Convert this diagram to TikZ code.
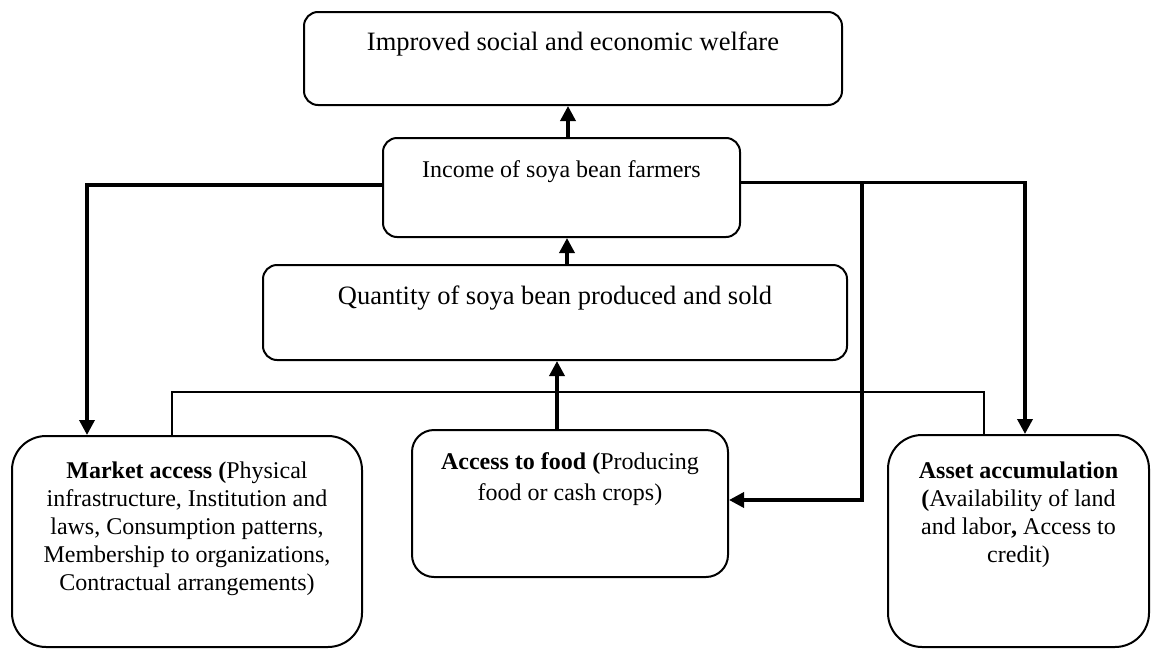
\documentclass[tikz,border=0pt]{standalone}
\usepackage{fontspec}
\setmainfont{Liberation Serif}
\usetikzlibrary{arrows.meta, positioning}

\begin{document}
\begin{tikzpicture}[x=1pt, y=-1pt]
          \tikzstyle{rbox}=[draw,line width = 2pt,rounded corners=14pt,inner sep=0pt]
          \tikzstyle{bigbox}=[rbox,rounded corners=34pt]
          \tikzstyle{btext}=[inner sep=0pt,align=center,font=\fontsize{24}{28}\selectfont]
          \tikzstyle{htext}=[inner sep=0pt,align=center,font=\fontsize{26.5}{30}\selectfont]
          \tikzstyle{edge}=[draw,line width = 3.5pt,-{Triangle[length=15pt,width=15pt]}]
          \tikzstyle{sedge}=[draw,line width = 1.6pt]
          \useasboundingbox (0,0) rectangle (1151,648);
          % boxes
          \node[rbox,minimum width=538pt,minimum height=93pt] (welfare) at (573,58.5) {};
          \node[rbox,minimum width=357pt,minimum height=99pt] (income) at (561.5,187.5) {};
          \node[rbox,minimum width=584pt,minimum height=95pt] (quantity) at (555,312.5) {};
          \node[bigbox,minimum width=350pt,minimum height=211pt] (market) at (187,541.5) {};
          \node[rbox,rounded corners=22pt,minimum width=316pt,minimum height=147pt] (food) at (570,503.5) {};
          \node[bigbox,minimum width=261pt,minimum height=212pt] (asset) at (1018.5,541) {};
          % texts
          \node[htext,below=21pt of welfare.north] (welfaretxt) {Improved social and economic welfare};
          \node[btext,below=23pt of income.north] (incometxt) {Income of soya bean farmers};
          \node[htext,below=22pt of quantity.north] (quantitytxt) {Quantity of soya bean produced and sold};
          \node[btext,below=27pt of market.north] (markettxt) {\textbf{Market access (}Physical\\
            infrastructure, Institution and\\ laws, Consumption patterns,\\
            Membership to organizations,\\ Contractual arrangements)};
          \node[btext,font=\fontsize{24}{31}\selectfont,below=23pt of food.north] (foodtxt)
            {\textbf{Access to food (}Producing\\ food or cash crops)};
          \node[btext,below=28pt of asset.north] (assettxt) {\textbf{Asset accumulation}\\
            \textbf{(}Availability of land\\ and labor\textbf{,} Access to\\ credit)};
          % connectors
          \draw[edge] ([xshift=6.5pt]income.north) -- ([xshift=6.5pt]income.north |- welfare.south);
          \draw[edge] ([xshift=12pt]quantity.north) -- ([xshift=12pt]quantity.north |- income.south);
          \draw[edge] ([xshift=-13pt]food.north) -- ([xshift=-13pt]food.north |- quantity.south);
          \draw[edge] ([yshift=2.5pt]income.west) -| ([xshift=-100pt]market.north);
          \draw[edge] ([yshift=5pt]income.east) -| ([xshift=6.5pt]asset.north);
          \coordinate (split) at ([xshift=121pt,yshift=5pt]income.east);
          \draw[edge] (split) |- ([yshift=3.5pt]food.east);
          \draw[sedge] ([xshift=-15pt]market.north) -- ++(0,-43) -| ([xshift=-34.5pt]asset.north);
\end{tikzpicture}
\end{document}
